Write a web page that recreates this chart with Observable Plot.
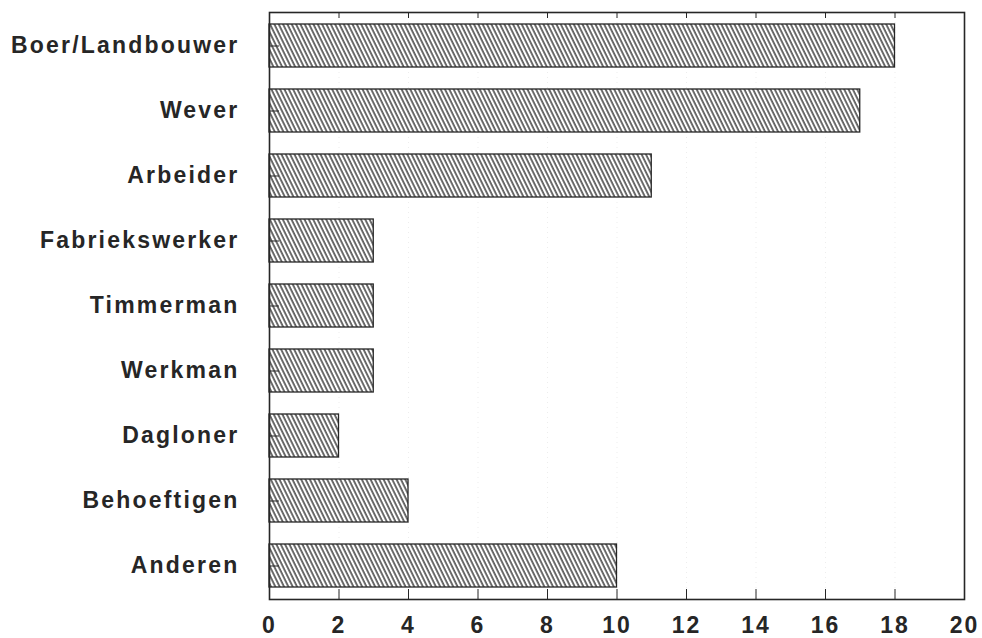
<!DOCTYPE html>
<html>
<head>
<meta charset="utf-8">
<script src="https://cdn.jsdelivr.net/npm/d3@7"></script>
<script src="https://cdn.jsdelivr.net/npm/@observablehq/plot@0.6"></script>
<style>
  html, body { margin: 0; padding: 0; background: #fff; }
  #chart svg { display: block; }
</style>
</head>
<body>
<div id="chart"></div>
<script>
const categories = ["Boer/Landbouwer", "Wever", "Arbeider", "Fabriekswerker", "Timmerman", "Werkman", "Dagloner", "Behoeftigen", "Anderen"];
const values = [18, 17, 11, 3, 3, 3, 2, 4, 10];
const xTicks = [0, 2, 4, 6, 8, 10, 12, 14, 16, 18, 20];

const data = categories.map((c, i) => ({category: c, value: values[i]}));
const ink = "#262626";

const chart = Plot.plot({
  width: 982,
  height: 638,
  marginLeft: 269,
  marginRight: 18,
  marginTop: 12,
  marginBottom: 39,
  style: {fontFamily: "'Liberation Sans', Arial, sans-serif", background: "#fff", color: ink},
  x: {domain: [0, 20], ticks: xTicks},
  y: {domain: categories, paddingInner: 0.335, paddingOuter: 0.159},
  marks: [
    Plot.gridX(xTicks, {stroke: "#000", strokeOpacity: 0.07, strokeDasharray: "1,4"}),
    Plot.barX(data, {x: "value", y: "category", fill: "url(#hatch)", stroke: ink, strokeWidth: 1.3}),
    Plot.frame({stroke: ink, strokeWidth: 1.6}),
    Plot.axisX(xTicks, {anchor: "bottom", tickSize: -10, tickPadding: 27, fontSize: 23, fontWeight: "bold", stroke: ink, label: null}),
    Plot.axisX(xTicks, {anchor: "top", tickSize: -5, text: null, stroke: ink, label: null}),
    Plot.axisY({anchor: "left", tickSize: -10, tickPadding: 40, fontSize: 23, fontWeight: "bold", stroke: ink, label: null})
  ]
});

document.getElementById("chart").appendChild(chart);

const svg = d3.select(chart);
const defs = svg.insert("defs", ":first-child");
const pat = defs.append("pattern")
  .attr("id", "hatch")
  .attr("patternUnits", "userSpaceOnUse")
  .attr("width", 3.9)
  .attr("height", 10)
  .attr("patternTransform", "rotate(-26)");
pat.append("rect").attr("width", 3.9).attr("height", 10).attr("fill", "#fff");
pat.append("line").attr("x1", 2).attr("x2", 2).attr("y1", 0).attr("y2", 10)
  .attr("stroke", "#1e1e1e").attr("stroke-width", 1.3);

svg.selectAll("[aria-label='x-axis tick label'] text")
  .style("letter-spacing", "2px");
svg.selectAll("[aria-label='y-axis tick label'] text")
  .style("letter-spacing", "2.2px");
svg.selectAll("[aria-label='x-axis tick label'], [aria-label='y-axis tick label']")
  .attr("fill", ink).attr("stroke", "none");
</script>
</body>
</html>
